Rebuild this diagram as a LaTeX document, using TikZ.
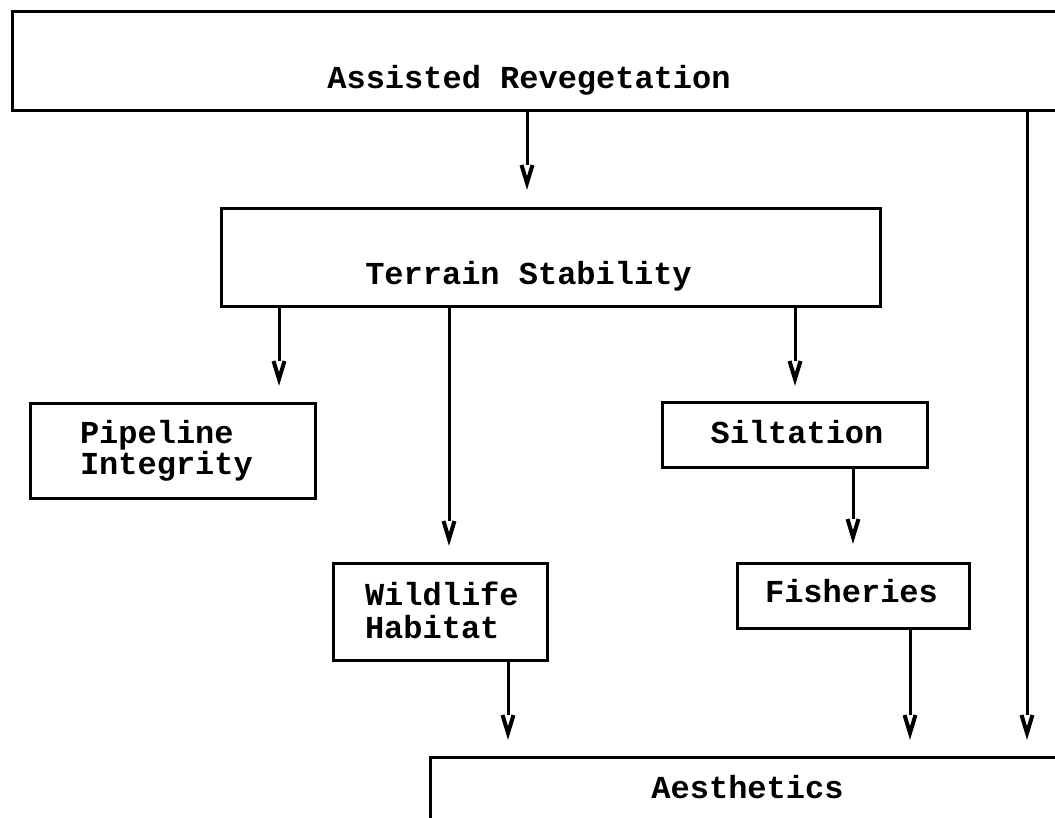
\documentclass[tikz,border=0pt]{standalone}
\usepackage{fontspec}
\newfontfamily\lblfont{Liberation Mono}
\newcommand\vhd[1]{\draw[vtip] ([xshift=-5.5pt]#1) -- ([yshift=-18pt]#1) -- ([xshift=5.5pt]#1);}
\begin{document}
\begin{tikzpicture}[x=1pt,y=-1pt,
  box/.style={draw, line width=3pt, inner sep=0pt, outer sep=0pt, anchor=north west},
  conn/.style={line width=3pt},
  vtip/.style={line width=4pt, line join=miter},
  lbl/.style={inner sep=0pt, outer sep=0pt, font=\lblfont\bfseries\fontsize{32}{32}\selectfont, anchor=base},
  lblw/.style={lbl, anchor=base west}]
\useasboundingbox (0,0) rectangle (1055,817);
\clip (0,0) rectangle (1055,817);
% boxes
\node[box, minimum width=1090pt, minimum height=99pt] (ar) at (12,11) {};
\node[box, minimum width=659pt, minimum height=98pt] (ts) at (221,208) {};
\node[box, minimum width=285pt, minimum height=95pt] (pi) at (30,403) {};
\node[box, minimum width=265pt, minimum height=65pt] (si) at (662,402) {};
\node[box, minimum width=214pt, minimum height=97pt] (wh) at (333,563) {};
\node[box, minimum width=232pt, minimum height=65pt] (fi) at (737,563) {};
\node[box, minimum width=680pt, minimum height=150pt] (ae) at (430,757) {};
% labels
\node[lbl] (arl) at (529,88) {Assisted Revegetation};
\node[lbl] (tsl) at (528.5,284) {Terrain Stability};
\node[lblw] (pil1) at (80,443) {Pipeline};
\node[lblw] (pil2) at (80,474) {Integrity};
\node[lbl] (sil) at (797,443) {Siltation};
\node[lblw] (whl1) at (365,605) {Wildlife};
\node[lblw] (whl2) at (365,638) {Habitat};
\node[lbl] (fil) at (851.5,602) {Fisheries};
\node[lbl] (ael) at (747.5,798) {Aesthetics};
% arrow heads (tops of the V marks)
\coordinate (v1) at (527,165);
\coordinate (v2) at (279,361);
\coordinate (v3) at (449,521);
\coordinate (v4) at (795,361);
\coordinate (v5) at (853,519);
\coordinate (v6) at (508,715);
\coordinate (v7) at (910,715);
\coordinate (v8) at (1027,715);
% connectors
\draw[conn] (ar.south -| v1) -- (v1);
\draw[conn] (ts.south -| v2) -- (v2);
\draw[conn] (ts.south -| v3) -- (v3);
\draw[conn] (ts.south -| v4) -- (v4);
\draw[conn] (si.south -| v5) -- (v5);
\draw[conn] (wh.south -| v6) -- (v6);
\draw[conn] (fi.south -| v7) -- (v7);
\draw[conn] (ar.south -| v8) -- (v8);
\vhd{v1}\vhd{v2}\vhd{v3}\vhd{v4}\vhd{v5}\vhd{v6}\vhd{v7}\vhd{v8}
\end{tikzpicture}
\end{document}
